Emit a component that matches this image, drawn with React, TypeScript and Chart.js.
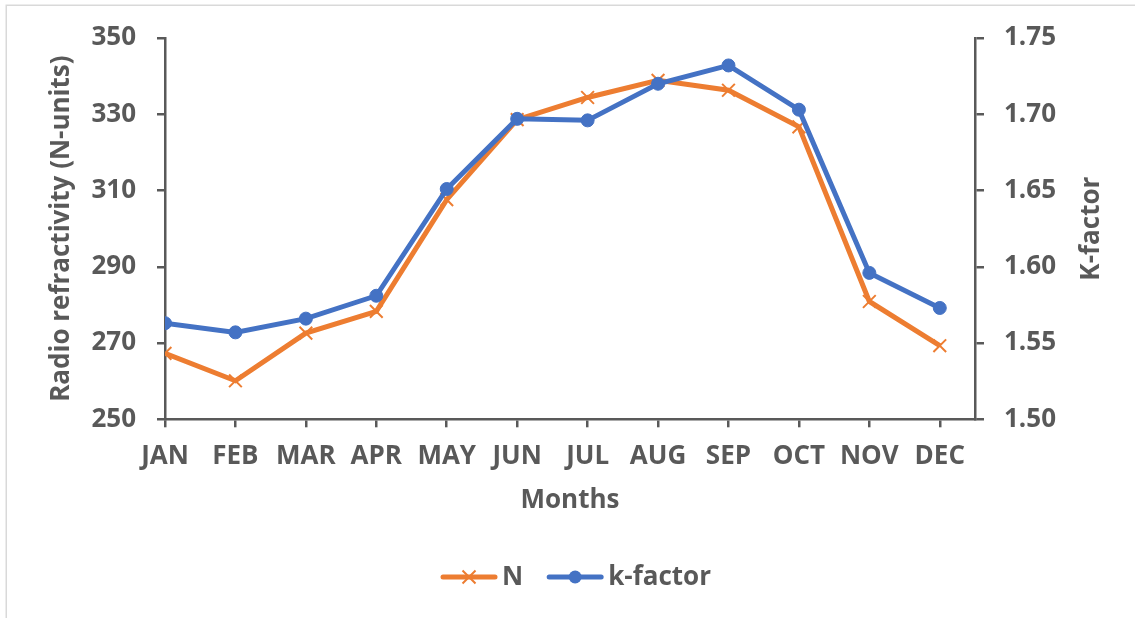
import { useEffect, useRef } from "react";
import { Chart, registerables } from "chart.js";

Chart.register(...registerables);

// Monthly mean radio refractivity and effective earth-radius factor
const MONTHS = ["JAN", "FEB", "MAR", "APR", "MAY", "JUN", "JUL", "AUG", "SEP", "OCT", "NOV", "DEC"];
const REFRACTIVITY_N = [267.3, 260.1, 272.6, 278.3, 307.6, 328.6, 334.4, 338.9, 336.3, 326.7, 280.9, 269.3];
const K_FACTOR = [1.563, 1.557, 1.566, 1.581, 1.651, 1.697, 1.696, 1.72, 1.732, 1.703, 1.596, 1.573];

// Axis ranges
const N_RANGE = [250, 350];
const N_STEP = 20;
const K_RANGE = [1.5, 1.75];
const K_STEP = 0.05;

const SERIES_LABELS = ["N", "k-factor"];

const ORANGE = "#ED7D31";
const BLUE = "#4472C4";
const TEXT = "#595959";
const AXIS = "#595959";
const FONT_FAMILY = "'Open Sans', 'Liberation Sans', sans-serif";
const FONT = { family: FONT_FAMILY, size: 26, weight: "bold" as const };

const W = 1135;
const H = 618;

// Light frame around the chart
const framePlugin = {
  id: "frame",
  beforeDraw(chart: Chart) {
    const ctx = chart.ctx;
    ctx.save();
    ctx.fillStyle = "#ffffff";
    ctx.fillRect(0, 0, chart.width, chart.height);
    ctx.strokeStyle = "#d9d9d9";
    ctx.lineWidth = 1.5;
    ctx.strokeRect(6.25, 5.25, chart.width + 50, chart.height + 50);
    ctx.restore();
  },
};

// Secondary axis title (reads bottom-to-top) and the line+marker legend
const extrasPlugin = {
  id: "extras",
  afterDraw(chart: Chart) {
    const ctx = chart.ctx;
    const area = chart.chartArea;
    ctx.save();
    ctx.font = `bold 26px ${FONT_FAMILY}`;
    ctx.fillStyle = TEXT;

    // right axis title
    ctx.save();
    ctx.translate(1092, (area.top + area.bottom) / 2);
    ctx.rotate(-Math.PI / 2);
    ctx.textAlign = "center";
    ctx.textBaseline = "middle";
    ctx.fillText("K-factor", 0, 0);
    ctx.restore();

    // legend
    const lineLen = 56;
    const textGap = 5;
    const itemGap = 24;
    const y = 577;
    const widths = SERIES_LABELS.map((t) => ctx.measureText(t).width);
    const total = widths.reduce((s, w) => s + lineLen + textGap + w, 0) + itemGap * (SERIES_LABELS.length - 1);
    let x = 576 - total / 2;
    chart.data.datasets.forEach((ds: any, i: number) => {
      const color = ds.borderColor as string;
      ctx.strokeStyle = color;
      ctx.lineWidth = 5;
      ctx.lineCap = "round";
      ctx.beginPath();
      ctx.moveTo(x + 2, y);
      ctx.lineTo(x + lineLen - 2, y);
      ctx.stroke();
      const cx = x + lineLen / 2;
      if (ds.pointStyle === "crossRot") {
        const r = 6.5;
        ctx.lineWidth = 2;
        ctx.lineCap = "butt";
        ctx.beginPath();
        ctx.moveTo(cx - r, y - r);
        ctx.lineTo(cx + r, y + r);
        ctx.moveTo(cx - r, y + r);
        ctx.lineTo(cx + r, y - r);
        ctx.stroke();
      } else {
        ctx.fillStyle = color;
        ctx.beginPath();
        ctx.arc(cx, y, 6.5, 0, Math.PI * 2);
        ctx.fill();
      }
      ctx.fillStyle = TEXT;
      ctx.textAlign = "left";
      ctx.textBaseline = "middle";
      ctx.fillText(ds.label, x + lineLen + textGap, y + 1);
      x += lineLen + textGap + widths[i] + itemGap;
    });
    ctx.restore();
  },
};

export default function App() {
  const canvasRef = useRef<HTMLCanvasElement | null>(null);

  useEffect(() => {
    document.body.style.margin = "0";
    const canvas = canvasRef.current;
    if (!canvas) return;

    const chart = new Chart(canvas, {
      type: "line",
      data: {
        datasets: [
          {
            label: SERIES_LABELS[0],
            data: REFRACTIVITY_N.map((v, i) => ({ x: i, y: v })),
            yAxisID: "yN",
            borderColor: ORANGE,
            backgroundColor: ORANGE,
            borderWidth: 5,
            pointStyle: "crossRot",
            pointRadius: 9,
            pointBorderWidth: 2,
            pointBorderColor: ORANGE,
            tension: 0,
            order: 2,
          },
          {
            label: SERIES_LABELS[1],
            data: K_FACTOR.map((v, i) => ({ x: i, y: v })),
            yAxisID: "yK",
            borderColor: BLUE,
            backgroundColor: BLUE,
            borderWidth: 5,
            pointStyle: "circle",
            pointRadius: 6.5,
            pointBorderWidth: 1,
            pointBorderColor: BLUE,
            tension: 0,
            order: 1,
          },
        ],
      },
      options: {
        responsive: false,
        animation: false,
        devicePixelRatio: 1,
        layout: { padding: { top: 38, left: 0, right: 0, bottom: 0 } },
        plugins: {
          legend: { display: false },
          tooltip: { enabled: false },
        },
        scales: {
          x: {
            type: "linear",
            position: "bottom",
            min: 0,
            max: MONTHS.length - 0.5,
            afterFit(scale: any) {
              scale.height = 198.7;
            },
            ticks: {
              stepSize: 1,
              includeBounds: false,
              autoSkip: false,
              maxRotation: 0,
              padding: 14,
              color: TEXT,
              font: FONT,
              callback: (v: any) => MONTHS[Number(v)] ?? "",
            },
            grid: {
              drawOnChartArea: false,
              drawTicks: true,
              tickLength: 8,
              color: AXIS,
              lineWidth: 2.5,
            },
            border: { display: true, color: AXIS, width: 2.5 },
            title: {
              display: true,
              text: "Months",
              color: TEXT,
              font: FONT,
              padding: { top: 0, bottom: 102 },
            },
          },
          yN: {
            type: "linear",
            position: "left",
            min: N_RANGE[0],
            max: N_RANGE[1],
            afterFit(scale: any) {
              scale.width = 165;
            },
            ticks: {
              stepSize: N_STEP,
              padding: 21,
              color: TEXT,
              font: FONT,
            },
            grid: {
              drawOnChartArea: false,
              drawTicks: true,
              tickLength: 8,
              color: AXIS,
              lineWidth: 2.5,
            },
            border: { display: true, color: AXIS, width: 2.5 },
            title: {
              display: true,
              text: "Radio refractivity (N-units)",
              color: TEXT,
              font: FONT,
              padding: { top: 46, bottom: 0 },
            },
          },
          yK: {
            type: "linear",
            position: "right",
            min: K_RANGE[0],
            max: K_RANGE[1],
            afterFit(scale: any) {
              scale.width = W - 975;
            },
            ticks: {
              stepSize: K_STEP,
              padding: 20,
              color: TEXT,
              font: FONT,
              callback: (v: any) => Number(v).toFixed(2),
            },
            grid: {
              drawOnChartArea: false,
              drawTicks: true,
              tickLength: 9,
              color: AXIS,
              lineWidth: 2.5,
            },
            border: { display: true, color: AXIS, width: 2.5 },
          },
        },
      },
      plugins: [framePlugin, extrasPlugin],
    });

    return () => chart.destroy();
  }, []);

  return (
    <canvas
      ref={canvasRef}
      width={W}
      height={H}
      style={{ display: "block", width: W, height: H }}
    />
  );
}
